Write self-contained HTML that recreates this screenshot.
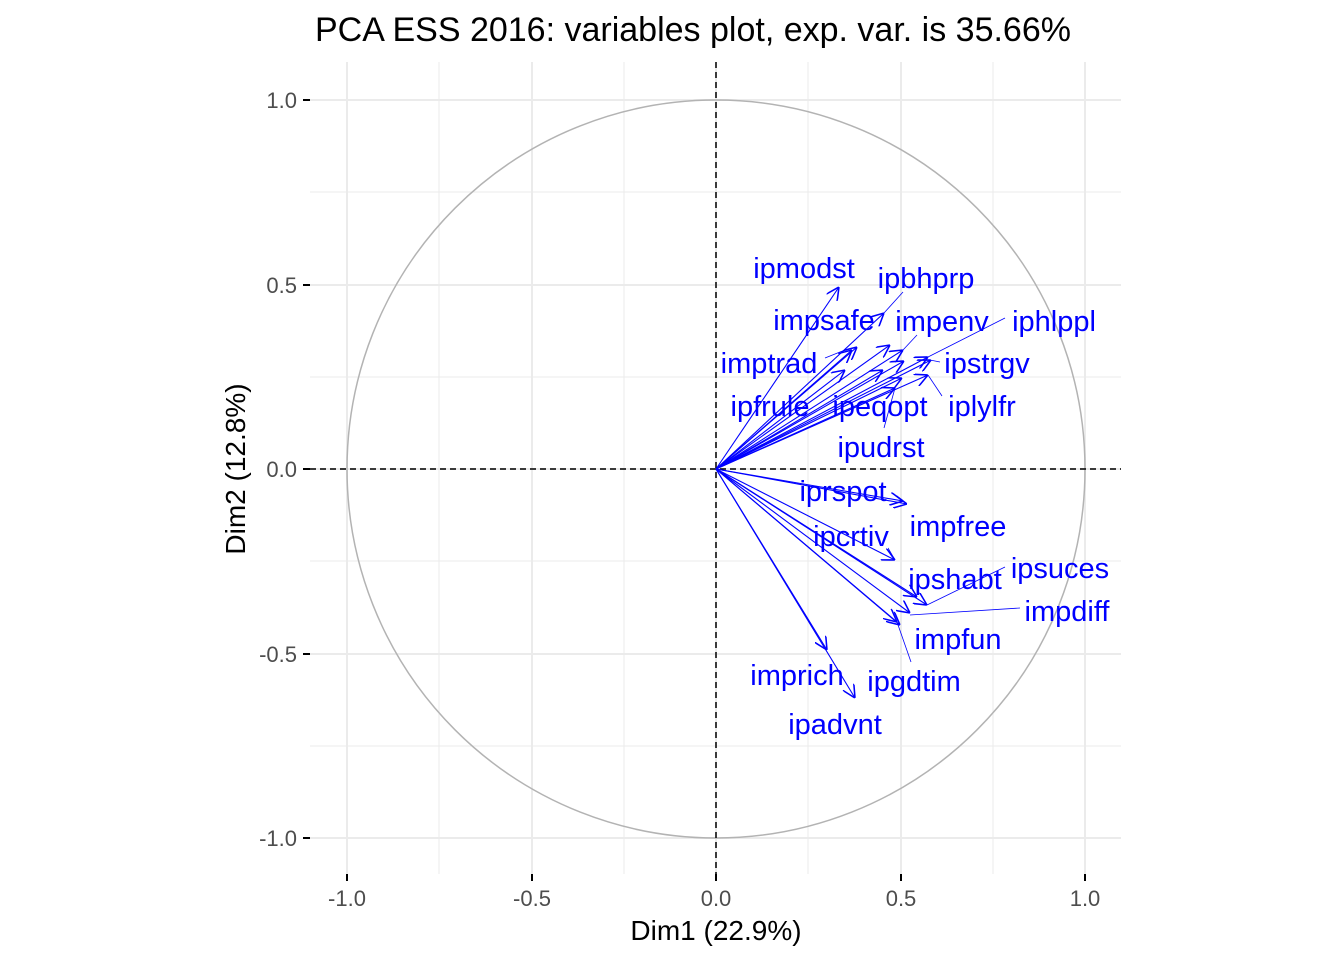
<!DOCTYPE html>
<html><head><meta charset="utf-8"><style>
body{margin:0;background:#fff}
svg text{font-family:"Liberation Sans",Arial,sans-serif}
</style></head><body>
<svg width="1344" height="960" viewBox="0 0 1344 960" xmlns="http://www.w3.org/2000/svg">
<defs>
<marker id="a" viewBox="0 0 10 10" refX="10" refY="5" markerWidth="13" markerHeight="13" markerUnits="userSpaceOnUse" orient="auto">
<path d="M0,0 L10,5 L0,10" fill="none" stroke="#0000ff" stroke-width="1.2"/>
</marker>
</defs>
<text x="693" y="41" font-size="34" text-anchor="middle" fill="#000">PCA ESS 2016: variables plot, exp. var. is 35.66%</text>
<g stroke="#ebebeb" stroke-width="1">
<line x1="439" y1="62" x2="439" y2="874"/><line x1="624" y1="62" x2="624" y2="874"/><line x1="808" y1="62" x2="808" y2="874"/><line x1="993" y1="62" x2="993" y2="874"/>
<line x1="310" y1="192" x2="1121" y2="192"/><line x1="310" y1="377" x2="1121" y2="377"/><line x1="310" y1="561" x2="1121" y2="561"/><line x1="310" y1="746" x2="1121" y2="746"/>
</g>
<g stroke="#ebebeb" stroke-width="2">
<line x1="347" y1="62" x2="347" y2="874"/><line x1="532" y1="62" x2="532" y2="874"/><line x1="716" y1="62" x2="716" y2="874"/><line x1="901" y1="62" x2="901" y2="874"/><line x1="1085" y1="62" x2="1085" y2="874"/>
<line x1="310" y1="100" x2="1121" y2="100"/><line x1="310" y1="285" x2="1121" y2="285"/><line x1="310" y1="469" x2="1121" y2="469"/><line x1="310" y1="654" x2="1121" y2="654"/><line x1="310" y1="838" x2="1121" y2="838"/>
</g>
<circle cx="716" cy="469" r="369" fill="none" stroke="#b3b3b3" stroke-width="1.5"/>
<g stroke="#000" stroke-width="1.5" stroke-dasharray="6,4">
<line x1="716" y1="62" x2="716" y2="874"/><line x1="310" y1="469" x2="1121" y2="469"/>
</g>
<g stroke="#000" stroke-width="2">
<line x1="303" y1="100" x2="310" y2="100"/><line x1="303" y1="285" x2="310" y2="285"/><line x1="303" y1="469" x2="310" y2="469"/><line x1="303" y1="654" x2="310" y2="654"/><line x1="303" y1="838" x2="310" y2="838"/>
<line x1="347" y1="874" x2="347" y2="881"/><line x1="532" y1="874" x2="532" y2="881"/><line x1="716" y1="874" x2="716" y2="881"/><line x1="901" y1="874" x2="901" y2="881"/><line x1="1085" y1="874" x2="1085" y2="881"/>
</g>
<g font-size="22" fill="#4d4d4d" text-anchor="end">
<text x="297" y="108">1.0</text><text x="297" y="293">0.5</text><text x="297" y="477">0.0</text><text x="297" y="662">-0.5</text><text x="297" y="846">-1.0</text>
</g>
<g font-size="22" fill="#4d4d4d" text-anchor="middle">
<text x="347" y="906">-1.0</text><text x="532" y="906">-0.5</text><text x="716" y="906">0.0</text><text x="901" y="906">0.5</text><text x="1085" y="906">1.0</text>
</g>
<text x="716" y="940" font-size="28" text-anchor="middle" fill="#000">Dim1 (22.9%)</text>
<text transform="translate(245,469) rotate(-90)" font-size="28" text-anchor="middle" fill="#000">Dim2 (12.8%)</text>
<g stroke="#0000ff" stroke-width="1.1" marker-end="url(#a)">
<line x1="716" y1="469" x2="839" y2="287"/>
<line x1="716" y1="469" x2="884" y2="313"/>
<line x1="716" y1="469" x2="857" y2="347"/>
<line x1="716" y1="469" x2="852" y2="350"/>
<line x1="716" y1="469" x2="890" y2="345"/>
<line x1="716" y1="469" x2="903" y2="350"/>
<line x1="716" y1="469" x2="904" y2="361"/>
<line x1="716" y1="469" x2="928" y2="357"/>
<line x1="716" y1="469" x2="931" y2="360"/>
<line x1="716" y1="469" x2="845" y2="370"/>
<line x1="716" y1="469" x2="883" y2="370"/>
<line x1="716" y1="469" x2="902" y2="378"/>
<line x1="716" y1="469" x2="928" y2="375"/>
<line x1="716" y1="469" x2="895" y2="388"/>
<line x1="716" y1="469" x2="903" y2="501"/>
<line x1="716" y1="469" x2="907" y2="504"/>
<line x1="716" y1="469" x2="895" y2="560"/>
<line x1="716" y1="469" x2="917" y2="597"/>
<line x1="716" y1="469" x2="927" y2="605"/>
<line x1="716" y1="469" x2="910" y2="613"/>
<line x1="716" y1="469" x2="897" y2="622"/>
<line x1="716" y1="469" x2="900" y2="625"/>
<line x1="716" y1="469" x2="827" y2="650"/>
<line x1="716" y1="469" x2="855" y2="698"/>
</g>
<g stroke="#0000ff" stroke-width="0.8">
<line x1="903" y1="292" x2="884" y2="313"/>
<line x1="917" y1="335" x2="903" y2="350"/>
<line x1="1005" y1="318" x2="928" y2="357"/>
<line x1="940" y1="362" x2="930" y2="360"/>
<line x1="942" y1="396" x2="928" y2="375"/>
<line x1="884" y1="428" x2="895" y2="388"/>
<line x1="825" y1="358" x2="845" y2="350"/>
<line x1="1005" y1="567" x2="927" y2="605"/>
<line x1="1020" y1="608" x2="910" y2="615"/>
<line x1="911" y1="662" x2="897" y2="622"/>
<line x1="888" y1="548" x2="895" y2="560"/>
</g>
<g font-size="29" fill="#0000ff" text-anchor="middle">
<text x="804" y="278">ipmodst</text>
<text x="926" y="288">ipbhprp</text>
<text x="824" y="330">impsafe</text>
<text x="942" y="331">impenv</text>
<text x="1054" y="331">iphlppl</text>
<text x="769" y="373">imptrad</text>
<text x="987" y="373">ipstrgv</text>
<text x="770" y="416">ipfrule</text>
<text x="880" y="416">ipeqopt</text>
<text x="982" y="416">iplylfr</text>
<text x="881" y="457">ipudrst</text>
<text x="843" y="501">iprspot</text>
<text x="958" y="536">impfree</text>
<text x="851" y="546">ipcrtiv</text>
<text x="1060" y="578">ipsuces</text>
<text x="955" y="589">ipshabt</text>
<text x="1067" y="621">impdiff</text>
<text x="958" y="649">impfun</text>
<text x="797" y="685">imprich</text>
<text x="914" y="691">ipgdtim</text>
<text x="835" y="734">ipadvnt</text>
</g>
</svg>
</body></html>
